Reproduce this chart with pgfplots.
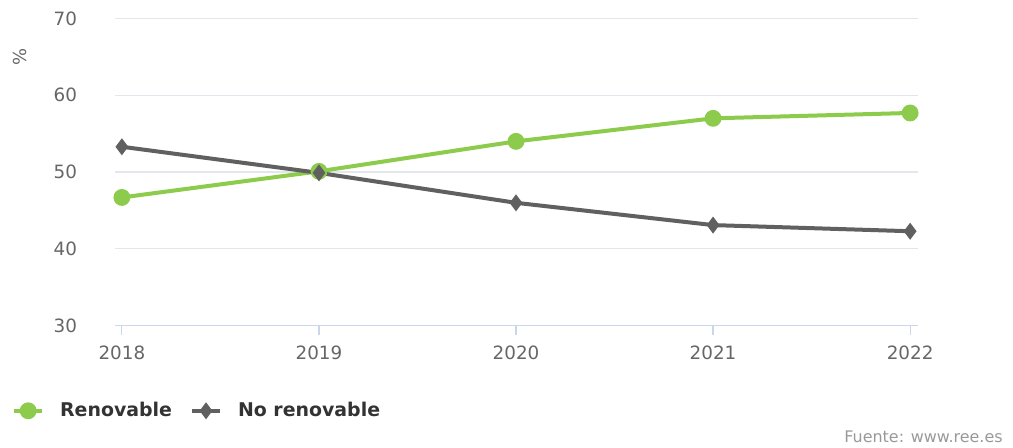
\documentclass[border=0pt]{standalone}
\usepackage{pgfplots}
\pgfplotsset{compat=1.18}
\usepackage{fontspec}
\setmainfont{DejaVu Sans}
\definecolor{ren}{HTML}{8CCB4B}
\definecolor{noren}{HTML}{606060}
\definecolor{gridc}{HTML}{E3E6EC}
\definecolor{axc}{HTML}{CCD6EB}
\definecolor{tickc}{HTML}{666666}
\definecolor{legc}{HTML}{333333}
\definecolor{srcc}{HTML}{999999}
\begin{document}
\begin{tikzpicture}
\useasboundingbox (0,0) rectangle (506.5bp,224bp);
\begin{axis}[
  at={(57.5bp,61.15bp)}, anchor=south west,
  scale only axis, width=401.5bp, height=153.6bp,
  xmin=2017.965, xmax=2022.04, ymin=30, ymax=70,
  ytick={30,40,50,60,70},
  xtick={2018,2019,2020,2021,2022},
  xticklabels={2018,2019,2020,2021,2022},
  axis x line*=bottom, axis y line*=left,
  x axis line style={draw=axc, line width=0.6bp, -},
  y axis line style={draw=none},
  ymajorgrids, grid style={draw=gridc, line width=0.6bp},
  tick align=outside, major tick length=4.5bp,
  xtick style={draw=axc, line width=0.6bp},
  ytick style={draw=none},
  /pgf/number format/assume math mode=true,
  ticklabel style={font=\fontsize{9.2}{10}\selectfont, text=tickc},
  yticklabel style={xshift=-11bp},
  xticklabel style={yshift=-2bp},
  legend style={at={(rel axis cs:-0.136,-0.277)}, anchor=west, draw=none, fill=none,
    font=\bfseries\fontsize{9.5}{11}\selectfont, text=legc,
    /tikz/every even column/.append style={column sep=7bp},
    /tikz/every odd column/.append style={column sep=6bp}},
  legend columns=-1,
  legend image code/.code={\draw[mark repeat=2,mark phase=2,#1] plot coordinates {(0bp,0bp) (7bp,0bp) (14bp,0bp)};},
]
\addplot[ren, line width=2bp, mark=*, mark size=3.2bp] coordinates {
  (2018,46.7) (2019,50.1) (2020,54.0) (2021,57.0) (2022,57.7)};
\addlegendentry{Renovable}
\addplot[noren, line width=2bp, mark=diamond*, mark size=2.6bp] coordinates {
  (2018,53.3) (2019,49.9) (2020,46.0) (2021,43.1) (2022,42.3)};
\addlegendentry{No renovable}
\end{axis}
\node[rotate=90, text=tickc, font=\fontsize{9}{10}\selectfont] at (10bp,195.5bp) {\%};
\node[anchor=east, text=srcc, font=\fontsize{8}{9}\selectfont, inner sep=0pt] at (501.5bp,5.5bp) {Fuente: www.ree.es};
\end{tikzpicture}
\end{document}
